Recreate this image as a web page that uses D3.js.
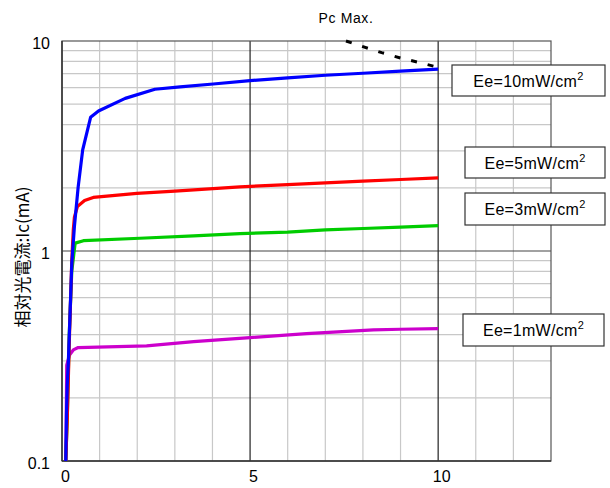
<!DOCTYPE html>
<html>
<head>
<meta charset="utf-8">
<script src="https://cdn.jsdelivr.net/npm/d3@7"></script>
<style>
  body { margin: 0; background: #fff; }
  svg { font-family: "Liberation Sans", Arial, sans-serif; }
</style>
</head>
<body>
<div id="chart"></div>
<script>
// Collector-emitter voltage (V) vs relative photocurrent Ic (mA)
const vceBlue  = [0.10, 0.12, 0.14, 0.17, 0.23, 0.26, 0.33, 0.43, 0.55, 0.76, 0.97, 1.68, 2.47, 3.14, 4.02, 5.0, 6.0, 7.0, 8.0, 9.0, 10.0];
const ic10     = [0.10, 0.17, 0.23, 0.30, 0.61, 0.87, 1.31, 2.02, 3.03, 4.33, 4.64, 5.33, 5.89, 6.05, 6.24, 6.48, 6.68, 6.87, 7.02, 7.18, 7.35];

const vceRed   = [0.10, 0.14, 0.20, 0.26, 0.30, 0.33, 0.41, 0.60, 0.83, 1.99, 3.0, 4.73, 6.0, 7.0, 8.0, 9.0, 10.0];
const ic5      = [0.10, 0.16, 0.40, 0.90, 1.26, 1.45, 1.63, 1.74, 1.80, 1.88, 1.93, 2.02, 2.07, 2.11, 2.15, 2.19, 2.23];

const vceGreen = [0.10, 0.14, 0.19, 0.26, 0.33, 0.35, 0.57, 2.07, 3.5, 4.73, 6.0, 7.0, 8.0, 9.0, 10.0];
const ic3      = [0.10, 0.16, 0.39, 0.80, 1.02, 1.09, 1.12, 1.15, 1.18, 1.21, 1.23, 1.26, 1.28, 1.30, 1.32];

const vceMag   = [0.10, 0.11, 0.125, 0.20, 0.30, 0.43, 2.25, 3.5, 5.0, 6.5, 8.28, 9.0, 10.0];
const ic1      = [0.10, 0.14, 0.286, 0.32, 0.338, 0.347, 0.353, 0.37, 0.387, 0.404, 0.421, 0.424, 0.427];

// Pc max. boundary
const vcePc    = [7.55, 8.0, 8.5, 9.0, 9.5, 10.08];
const icPc     = [10.0, 9.4, 8.8, 8.3, 7.9, 7.43];

const seriesNames  = ['Ee=1mW/cm', 'Ee=3mW/cm', 'Ee=5mW/cm', 'Ee=10mW/cm'];
const seriesColors = ['#cc00cc', '#00cc00', '#ff0000', '#0000ff'];
const xTicks = [0, 5, 10];
const yTicks = [0.1, 1, 10];

const width = 610, height = 488;
const margin = { top: 41, right: 59, bottom: 27, left: 62 };
const innerW = width - margin.left - margin.right;
const innerH = height - margin.top - margin.bottom;

const svg = d3.select('#chart').append('svg')
  .attr('width', width)
  .attr('height', height);

const g = svg.append('g')
  .attr('transform', `translate(${margin.left},${margin.top})`);

const x = d3.scaleLinear().domain([0, 13]).range([0, innerW]);
const y = d3.scaleLog().domain([0.1, 10]).range([innerH, 0]);

// minor grid
const minorX = d3.range(1, 13).filter(v => v % 5 !== 0);
g.selectAll('.vgrid').data(minorX).enter().append('line')
  .attr('x1', d => x(d)).attr('x2', d => x(d))
  .attr('y1', 0).attr('y2', innerH)
  .attr('stroke', '#c8c8c8').attr('stroke-width', 1.2);

const minorY = [];
[0.1, 1].forEach(dec => { for (let k = 2; k <= 9; k++) minorY.push(dec * k); });
g.selectAll('.hgrid').data(minorY).enter().append('line')
  .attr('x1', 0).attr('x2', innerW)
  .attr('y1', d => y(d)).attr('y2', d => y(d))
  .attr('stroke', '#c8c8c8').attr('stroke-width', 1.2);

// major grid
g.append('line').attr('x1', 0).attr('x2', innerW)
  .attr('y1', y(1)).attr('y2', y(1))
  .attr('stroke', '#444').attr('stroke-width', 1.2);
[5, 10].forEach(v => {
  g.append('line').attr('x1', x(v)).attr('x2', x(v))
    .attr('y1', 0).attr('y2', innerH)
    .attr('stroke', '#222').attr('stroke-width', 1.2);
});

// frame
g.append('rect').attr('width', innerW).attr('height', innerH)
  .attr('fill', 'none').attr('stroke', '#555').attr('stroke-width', 1.2);
g.append('line').attr('x1', 0).attr('x2', 0).attr('y1', 0).attr('y2', innerH)
  .attr('stroke', '#333').attr('stroke-width', 1.5);
g.append('line').attr('x1', 0).attr('x2', innerW).attr('y1', innerH).attr('y2', innerH)
  .attr('stroke', '#333').attr('stroke-width', 1.5);

// axes
const xAxis = g.append('g').attr('transform', `translate(0,${innerH})`)
  .call(d3.axisBottom(x).tickValues(xTicks).tickSize(0).tickPadding(10).tickFormat(d3.format('d')));
xAxis.select('.domain').remove();
xAxis.selectAll('text').attr('dx', 3).attr('font-size', 16).attr('fill', '#000')
  .attr('font-family', '"Liberation Sans", Arial, sans-serif');

const yAxis = g.append('g')
  .call(d3.axisLeft(y).tickValues(yTicks).tickSize(0).tickPadding(12).tickFormat(d => d));
yAxis.select('.domain').remove();
yAxis.selectAll('text').attr('dy', '0.45em').attr('font-size', 16).attr('fill', '#000')
  .attr('font-family', '"Liberation Sans", Arial, sans-serif');

// curves
const line = d3.line().x(d => x(d[0])).y(d => y(d[1]));
const curves = [
  d3.zip(vceMag, ic1),
  d3.zip(vceGreen, ic3),
  d3.zip(vceRed, ic5),
  d3.zip(vceBlue, ic10)
];
curves.forEach((pts, i) => {
  g.append('path').datum(pts)
    .attr('d', line)
    .attr('fill', 'none')
    .attr('stroke', seriesColors[i])
    .attr('stroke-width', 3.2)
    .attr('stroke-linejoin', 'round');
});

// Pc max dashed line
g.append('path').datum(d3.zip(vcePc, icPc))
  .attr('d', line)
  .attr('fill', 'none')
  .attr('stroke', '#000')
  .attr('stroke-width', 3)
  .attr('stroke-dasharray', '6,11');

svg.append('text')
  .attr('x', 346).attr('y', 23)
  .attr('text-anchor', 'middle')
  .attr('font-size', 14)
  .attr('letter-spacing', 0.6)
  .text('Pc Max.');

// label boxes
const boxes = [
  { x: 463, y: 314, w: 141, h: 32 },
  { x: 465, y: 193, w: 140, h: 32 },
  { x: 465, y: 147, w: 140, h: 31 },
  { x: 452, y: 65, w: 153, h: 31 }
];
boxes.forEach((b, i) => {
  svg.append('rect')
    .attr('x', b.x).attr('y', b.y).attr('width', b.w).attr('height', b.h)
    .attr('fill', '#fff').attr('stroke', '#333').attr('stroke-width', 1.2);
  const t = svg.append('text')
    .attr('x', b.x + b.w / 2).attr('y', b.y + b.h / 2 + 6)
    .attr('text-anchor', 'middle')
    .attr('font-size', 16)
    .attr('letter-spacing', 0.3);
  t.append('tspan').text(seriesNames[i]);
  t.append('tspan').attr('font-size', 11).attr('dy', -7).text('2');
});

// y axis title
svg.append('text')
  .attr('transform', 'translate(29,257) rotate(-90)')
  .attr('text-anchor', 'middle')
  .attr('font-family', '"Noto Sans CJK JP", sans-serif')
  .attr('font-size', 17)
  .text('相対光電流:Ic(mA)');
</script>
</body>
</html>
